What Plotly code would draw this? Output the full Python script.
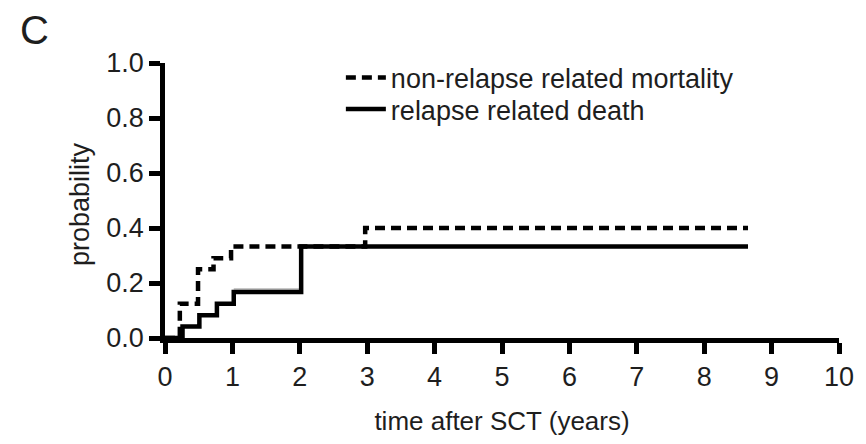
import plotly.graph_objects as go

# Cumulative incidence step curves (time in years after SCT)
nrm_time = [0, 0.22, 0.49, 0.72, 0.98, 2.97, 8.65]
nrm_prob = [0, 0.125, 0.25, 0.29, 0.333, 0.40, 0.40]

rrd_time = [0, 0.26, 0.51, 0.77, 1.02, 2.02, 8.65]
rrd_prob = [0, 0.042, 0.083, 0.125, 0.167, 0.333, 0.333]

# faint grey trace just above the relapse step between years 1 and 2
grey_time = [1.02, 2.0]
grey_prob = [0.178, 0.178]

x_ticks = list(range(0, 11))
y_ticks = [0.0, 0.2, 0.4, 0.6, 0.8, 1.0]

FONT = "Liberation Sans, Arial, Helvetica, sans-serif"
INK = "#1e1e1e"

# plot-area geometry in pixels, used to place the legend rows and side labels
L, R, T, B = 165, 15, 63, 103
W, H = 866, 444
PW, PH = W - L - R, H - T - B


def px_x(px):
    return (px - L) / PW


def px_y(py):
    return 1 - (py - T) / PH


fig = go.Figure()
fig.add_trace(go.Scatter(
    x=grey_time, y=grey_prob, mode="lines", showlegend=False, hoverinfo="skip",
    line=dict(color="#c8c8c8", width=2),
))
fig.add_trace(go.Scatter(
    x=nrm_time, y=nrm_prob, mode="lines", line_shape="hv",
    name="non-relapse related mortality", legend="legend",
    line=dict(color="black", width=4.5, dash="10px,6px"),
))
fig.add_trace(go.Scatter(
    x=rrd_time, y=rrd_prob, mode="lines", line_shape="hv",
    name="relapse related death", legend="legend2",
    line=dict(color="black", width=4.5),
))

axis_common = dict(
    showgrid=False, zeroline=False, showline=True, linecolor="black",
    linewidth=4.5, ticks="outside", ticklen=11, tickwidth=4.5, tickcolor="black",
    tickfont=dict(family=FONT, size=27, color=INK),
)

fig.update_xaxes(
    range=[0, 10], tickvals=x_ticks, ticktext=[str(v) for v in x_ticks],
    ticklabeloverflow="allow",
    title=dict(text="time after SCT (years)", font=dict(family=FONT, size=26, color=INK), standoff=22),
    **axis_common,
)
fig.update_yaxes(
    range=[0, 1], tickvals=y_ticks, ticktext=[f"{v:.1f}" for v in y_ticks],
    **axis_common,
)

# y-axis label, placed as a rotated annotation
fig.add_annotation(
    text="probability", xref="paper", yref="paper", x=px_x(79), y=px_y(206),
    xanchor="center", yanchor="middle", textangle=-90, showarrow=False,
    font=dict(family=FONT, size=27, color=INK),
)

# panel letter
fig.add_annotation(
    text="C", xref="paper", yref="paper", x=px_x(32), y=px_y(30),
    xanchor="center", yanchor="middle", showarrow=False,
    font=dict(family=FONT, size=40, color=INK),
)

legend_style = dict(
    xanchor="left", yanchor="middle",
    font=dict(family=FONT, size=27, color=INK),
    bgcolor="rgba(0,0,0,0)", itemwidth=40,
)

fig.update_layout(
    width=W, height=H,
    margin=dict(l=L, r=R, t=T, b=B),
    plot_bgcolor="white", paper_bgcolor="white",
    showlegend=True,
    legend=dict(x=px_x(344), y=px_y(78), **legend_style),
    legend2=dict(x=px_x(344), y=px_y(110), **legend_style),
)

fig.write_html("out.html")
